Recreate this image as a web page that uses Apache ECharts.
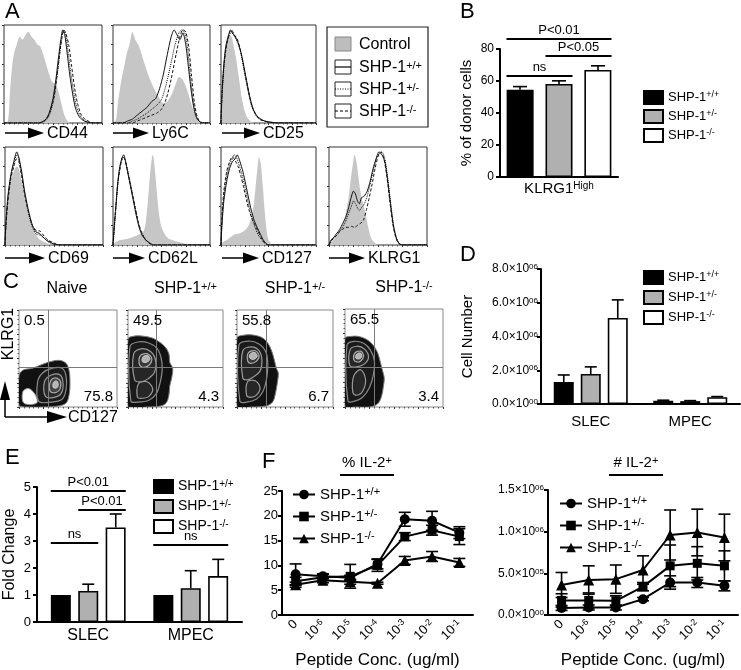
<!DOCTYPE html>
<html><head><meta charset="utf-8">
<script src="https://cdn.jsdelivr.net/npm/echarts@6/dist/echarts.min.js"></script>
<style>html,body{margin:0;padding:0;background:#fff}#c{width:741px;height:670px}</style>
</head><body><div id="c"></div><script>
const FONT = '"Liberation Sans", Arial, Helvetica, sans-serif';
const genotypes = ['+/+', '+/-', '-/-'];

// ---------- Panel A : histograms (x = fluorescence on display scale 0-100, y = % of max)
const histMarkers = ['CD44', 'Ly6C', 'CD25', 'CD69', 'CD62L', 'CD127', 'KLRG1'];
const cd44Ctrl = [[0,0],[4,2],[6,30],[8,55],[10,70],[13,80],[16,88],[19,85],[22,90],[25,93],[28,88],[31,85],[34,80],[37,78],[40,70],[43,60],[46,50],[49,42],[52,40],[55,34],[58,22],[61,10],[64,3],[68,0],[100,0]];
const cd44WT  = [[0,0],[35,0],[42,3],[46,10],[50,25],[53,45],[56,70],[58,85],[60,95],[62,90],[64,75],[67,50],[70,30],[73,15],[77,6],[82,2],[90,0],[100,0]];
const cd44Het = [[0,0],[36,0],[43,3],[47,10],[51,25],[54,46],[57,72],[59,88],[61,94],[63,90],[65,76],[68,52],[71,32],[74,17],[78,7],[83,2],[90,0],[100,0]];
const cd44KO  = [[0,0],[36,0],[43,4],[47,11],[51,27],[54,48],[57,72],[59,86],[61,95],[63,92],[66,80],[69,58],[72,36],[75,20],[79,8],[84,3],[92,0],[100,0]];
const ly6cCtrl = [[0,0],[3,3],[5,20],[8,40],[11,55],[14,70],[17,80],[20,93],[23,85],[26,80],[29,72],[32,62],[36,50],[40,40],[44,32],[48,25],[52,20],[56,22],[60,28],[64,38],[68,47],[72,44],[76,35],[80,22],[84,10],[88,3],[92,0],[100,0]];
const ly6cWT  = [[0,0],[10,0],[15,2],[20,4],[25,8],[30,12],[35,16],[40,22],[44,25],[48,35],[52,50],[56,70],[60,88],[63,95],[66,90],[69,85],[72,92],[75,80],[78,55],[81,30],[84,12],[87,4],[92,0],[100,0]];
const ly6cHet = [[0,0],[15,0],[20,2],[25,4],[30,7],[35,10],[40,14],[45,18],[50,24],[55,40],[60,62],[64,80],[68,92],[71,95],[74,92],[77,75],[80,45],[83,20],[86,6],[90,1],[100,0]];
const ly6cKO  = [[0,0],[20,0],[25,2],[30,4],[35,6],[40,8],[45,10],[50,14],[55,25],[60,45],[65,70],[69,88],[72,95],[75,93],[78,78],[81,48],[84,20],[87,6],[91,0],[100,0]];
const cd25Ctrl = [[0,0],[1,20],[3,55],[5,75],[7,85],[9,90],[11,88],[13,80],[16,65],[19,45],[22,25],[25,12],[28,5],[32,1],[36,0],[100,0]];
const cd25WT  = [[0,0],[1,30],[3,60],[5,78],[8,90],[10,95],[12,92],[15,88],[18,82],[22,68],[26,48],[30,28],[34,14],[38,7],[42,4],[46,2],[52,1],[60,0],[100,0]];
const cd25Het = [[0,0],[1,25],[3,55],[5,75],[8,88],[11,93],[13,90],[16,85],[20,75],[24,55],[28,35],[32,18],[36,9],[40,4],[46,2],[54,0],[100,0]];
const cd25KO  = [[0,0],[1,28],[3,58],[6,80],[9,92],[11,95],[14,90],[17,86],[21,72],[25,52],[29,32],[33,16],[37,8],[42,3],[50,1],[58,0],[100,0]];
const cd69Ctrl = [[0,0],[1,20],[3,45],[6,65],[9,75],[12,80],[14,78],[17,65],[20,48],[24,30],[28,18],[32,10],[36,5],[40,3],[45,1],[50,0],[100,0]];
const cd69WT  = [[0,0],[1,25],[3,50],[6,72],[9,85],[12,95],[14,90],[17,75],[20,55],[24,35],[28,20],[32,13],[35,12],[38,9],[42,5],[46,3],[50,1],[56,0],[100,0]];
const cd69Het = [[0,0],[1,22],[3,48],[6,70],[9,83],[12,92],[14,88],[17,72],[20,52],[24,32],[28,18],[32,11],[36,10],[40,7],[44,3],[50,1],[56,0],[100,0]];
const cd69KO  = [[0,0],[1,20],[3,45],[6,68],[9,80],[12,88],[14,86],[17,70],[20,52],[24,33],[28,20],[32,15],[36,14],[40,9],[44,5],[50,2],[56,0],[100,0]];
const cd62lCtrl = [[0,0],[3,3],[8,5],[14,6],[20,8],[25,10],[29,12],[32,15],[34,25],[36,45],[38,70],[40,88],[41,92],[42,88],[44,68],[46,45],[48,28],[50,18],[54,10],[58,6],[64,4],[72,2],[80,0],[100,0]];
const cd62lWT  = [[0,0],[1,15],[3,40],[5,65],[7,80],[9,88],[11,92],[13,85],[15,75],[18,60],[21,45],[24,30],[27,18],[30,10],[34,5],[38,2],[42,0],[100,0]];
const cd62lHet = [[0,0],[1,12],[3,38],[5,62],[7,78],[9,86],[11,90],[13,85],[16,72],[19,58],[22,42],[25,28],[28,16],[32,8],[36,3],[41,0],[100,0]];
const cd62lKO  = [[0,0],[1,14],[3,40],[5,63],[8,82],[10,90],[12,88],[14,80],[17,66],[20,52],[23,38],[26,24],[29,14],[33,6],[37,2],[42,0],[100,0]];
const cd127Ctrl = [[0,0],[2,3],[6,5],[10,8],[15,11],[20,12],[24,14],[28,18],[31,25],[34,38],[36,55],[38,75],[40,90],[42,82],[44,60],[46,35],[48,15],[50,5],[53,1],[56,0],[100,0]];
const cd127WT  = [[0,0],[1,20],[3,45],[6,65],[9,78],[12,85],[15,88],[17,92],[20,85],[23,75],[26,62],[29,48],[32,35],[35,25],[38,18],[41,12],[44,6],[47,2],[50,0],[100,0]];
const cd127Het = [[0,0],[1,25],[3,50],[6,70],[9,82],[12,88],[14,92],[16,90],[19,82],[22,72],[25,60],[28,46],[31,33],[34,23],[37,15],[40,9],[43,5],[47,1],[50,0],[100,0]];
const cd127KO  = [[0,0],[1,28],[3,55],[6,75],[9,85],[12,90],[15,86],[18,80],[21,70],[24,58],[27,45],[30,34],[33,26],[36,20],[39,14],[42,8],[45,3],[49,0],[100,0]];
const klrg1Ctrl = [[0,0],[2,3],[5,6],[8,10],[11,15],[14,22],[17,32],[20,48],[22,65],[24,80],[26,92],[28,85],[30,70],[32,55],[34,45],[36,38],[38,28],[40,18],[42,10],[44,5],[47,2],[50,0],[100,0]];
const klrg1WT  = [[0,0],[2,5],[5,8],[8,12],[11,16],[14,22],[17,28],[20,38],[23,50],[25,55],[27,52],[29,45],[31,42],[33,48],[36,50],[39,55],[42,65],[45,78],[48,88],[51,95],[54,92],[57,85],[60,65],[63,40],[66,18],[69,6],[72,1],[76,0],[100,0]];
const klrg1Het = [[0,0],[2,4],[5,7],[8,10],[11,14],[14,18],[17,24],[20,32],[23,40],[25,45],[27,42],[29,38],[31,35],[33,38],[36,42],[39,50],[42,62],[45,75],[48,87],[51,93],[54,95],[57,88],[60,68],[63,42],[66,20],[69,7],[72,1],[76,0],[100,0]];
const klrg1KO  = [[0,0],[2,4],[5,7],[8,10],[11,14],[14,16],[17,18],[20,18],[23,19],[26,18],[29,20],[32,22],[35,25],[38,35],[41,48],[44,62],[47,78],[50,90],[53,95],[56,88],[59,70],[62,45],[65,22],[68,8],[71,2],[75,0],[100,0]];
const histCtrl = [cd44Ctrl, ly6cCtrl, cd25Ctrl, cd69Ctrl, cd62lCtrl, cd127Ctrl, klrg1Ctrl];
const histWT   = [cd44WT, ly6cWT, cd25WT, cd69WT, cd62lWT, cd127WT, klrg1WT];
const histHet  = [cd44Het, ly6cHet, cd25Het, cd69Het, cd62lHet, cd127Het, klrg1Het];
const histKO   = [cd44KO, ly6cKO, cd25KO, cd69KO, cd62lKO, cd127KO, klrg1KO];

// ---------- Panel B
const bCategory = ['KLRG1High'];
const bWT = [54.5], bWTErr = [2.0];
const bHet = [58.2], bHetErr = [1.9];
const bKO = [66.9], bKOErr = [2.6];
const bSigLevel = [86.3, 75.6, 63.1];
const bSigFrom = [0, 1, 0];
const bSigTo = [2, 2, 1];
const bSigText = ['P<0.01', 'P<0.05', 'ns'];

// ---------- Panel C : contour plots (CD127 x, KLRG1 y on 0-100 display scale)
const cTitles = ['Naive', '+/+', '+/-', '-/-'];
const cUpperLeft = ['0.5', '49.5', '55.8', '65.5'];
const cLowerRight = ['75.8', '4.3', '6.7', '3.4'];
const cGateX = 30, cGateY = 41;
const naiveOuter = [[0,2],[0,32],[4,38],[14,40],[24,44],[33,47],[42,48],[48,45],[51,38],[52,25],[51,12],[48,4],[40,1],[25,0],[8,0]];
const naiveHole  = [[5,4],[4,16],[10,19],[17,12],[18,4]];
const naiveC1 = [[20,6],[19,26],[24,35],[34,40],[44,40],[48,32],[48,18],[44,8],[33,5]];
const naiveC2 = [[27,11],[26,26],[33,33],[42,33],[45,24],[43,14],[36,10]];
const naiveC3 = [[32,16],[32,26],[37,30],[42,27],[42,19],[38,15]];
const naiveC4 = [[35,20],[35,25],[38,27],[40,24],[39,20]];
const wtOuter = [[0,0],[0,70],[6,73],[16,73],[26,71],[33,67],[39,62],[43,55],[44,46],[47,40],[46,30],[44,22],[43,12],[40,4],[34,1],[20,0]];
const wtC1 = [[3,6],[2,62],[10,67],[22,66],[31,60],[35,50],[36,38],[34,26],[30,14],[22,7],[10,5]];
const wtC2 = [[7,28],[6,55],[14,60],[24,57],[29,48],[28,36],[21,29],[14,26]];
const wtC3 = [[12,44],[13,53],[20,55],[25,50],[22,43],[16,41]];
const wtC4 = [[10,10],[11,24],[20,26],[26,19],[22,11],[15,9]];
const wtC5 = [[15,47],[16,52],[21,53],[23,49],[19,46]];
const hetOuter = [[0,0],[0,71],[7,74],[18,74],[27,71],[32,66],[36,58],[39,48],[41,40],[43,35],[42,25],[40,14],[37,5],[30,1],[15,0]];
const hetC1 = [[3,6],[2,64],[12,68],[23,65],[30,57],[32,45],[31,30],[27,16],[20,8],[10,5]];
const hetC2 = [[6,30],[6,58],[15,62],[23,58],[26,48],[24,37],[17,31],[11,28]];
const hetC3 = [[11,48],[12,56],[19,58],[23,53],[20,47],[14,45]];
const hetC4 = [[10,12],[11,26],[19,27],[24,20],[20,12],[14,10]];
const hetC5 = [[13,51],[14,55],[19,56],[21,52],[17,49]];
const koOuter = [[0,0],[0,70],[6,72],[14,72],[22,69],[28,64],[33,56],[36,46],[38,38],[40,30],[39,20],[37,10],[33,3],[25,0],[10,0]];
const koC1 = [[3,6],[2,63],[9,67],[19,65],[26,58],[30,47],[29,33],[25,20],[18,10],[10,6]];
const koC2 = [[5,42],[5,58],[12,62],[20,59],[24,51],[20,44],[12,41]];
const koC3 = [[9,48],[10,55],[16,57],[19,52],[16,47],[12,46]];
const koC4 = [[8,15],[9,32],[16,38],[21,28],[18,16],[12,12]];
const koC5 = [[11,50],[12,54],[16,55],[17,51],[14,49]];
const contourSets = [
  [naiveOuter, naiveHole, naiveC1, naiveC2, naiveC3, naiveC4],
  [wtOuter, wtC1, wtC2, wtC3, wtC4, wtC5],
  [hetOuter, hetC1, hetC2, hetC3, hetC4, hetC5],
  [koOuter, koC1, koC2, koC3, koC4, koC5]
];

// ---------- Panel D
const subsetCats = ['SLEC', 'MPEC'];
const dWT = [1300000, 200000], dWTErr = [420000, 25000];
const dHet = [1780000, 170000], dHetErr = [420000, 30000];
const dKO = [5100000, 400000], dKOErr = [1070000, 40000];

// ---------- Panel E
const eWT = [1.0, 1.0], eWTErr = [0, 0];
const eHet = [1.15, 1.25], eHetErr = [0.25, 0.65];
const eKO = [3.5, 1.7], eKOErr = [0.5, 0.62];
const eSigCat = [0, 0, 0, 1];
const eSigLevel = [4.85, 4.15, 2.93, 2.85];
const eSigFrom = [0, 1, 0, 0];
const eSigTo = [2, 2, 1, 2];
const eSigText = ['P<0.01', 'P<0.01', 'ns', 'ns'];

// ---------- Panel F
const peptideCats = ['0', '1e-6', '1e-5', '1e-4', '1e-3', '1e-2', '1e-1'];
const pctWT = [8.2, 7.8, 7.5, 10.3, 19.3, 19.0, 16.6], pctWTErr = [2.1, 0.5, 0.5, 1.0, 1.4, 1.9, 1.2];
const pctHet = [6.8, 7.6, 7.8, 10.0, 15.8, 17.1, 15.8], pctHetErr = [0.8, 0.6, 2.4, 1.2, 0.8, 1.0, 1.6];
const pctKO = [6.1, 7.0, 6.7, 6.4, 11.0, 11.8, 10.6], pctKOErr = [0.5, 0.5, 0.5, 0.2, 0.8, 1.0, 0.8];
const numWT = [85000, 90000, 90000, 190000, 390000, 390000, 350000], numWTErr = [30000, 30000, 30000, 20000, 80000, 60000, 60000];
const numHet = [175000, 175000, 170000, 340000, 590000, 620000, 590000], numHetErr = [80000, 90000, 60000, 50000, 250000, 200000, 180000];
const numKO = [360000, 420000, 430000, 540000, 960000, 990000, 930000], numKOErr = [150000, 170000, 170000, 170000, 300000, 280000, 280000];

// ================= build =================
const grids = [], xAxes = [], yAxes = [], series = [], legends = [], graphics = [];
function addGrid(r, gridExtra, xa, ya) {
  const gi = grids.length;
  grids.push(Object.assign({left: r[0], top: r[1], width: r[2], height: r[3], containLabel: false}, gridExtra || {}));
  xAxes.push(Object.assign({gridIndex: gi}, xa));
  yAxes.push(Object.assign({gridIndex: gi}, ya));
  return gi;
}
const supRich = (base) => ({sup: {fontSize: Math.round(base * 0.7), fontFamily: FONT, verticalAlign: 'top', lineHeight: Math.round(base * 0.7), color: '#000'}});
const shpName = n => 'SHP-1{sup|' + n.split('|')[1] + '}';
const sci = v => {
  if (v === 0) return '0.0×10{sup|00}';
  const e = Math.floor(Math.log10(v) + 1e-9);
  const m = v / Math.pow(10, e);
  return m.toFixed(1) + '×10{sup|' + String(e).padStart(2, '0') + '}';
};
const blackAxisLine = {show: true, lineStyle: {color: '#000', width: 2}};

// ---- A
const histBoxes = [[4,25,98,98],[113,25,97,98],[221,25,95,98],[5,147,98,98],[113,147,97,98],[221,147,95,98],[329,147,98,98]];
histBoxes.forEach((b, i) => {
  const gi = addGrid(b, {show: true, borderColor: '#333', borderWidth: 1},
    {type: 'value', min: 0, max: 100, interval: 25, axisLine: {show: false}, axisLabel: {show: false}, splitLine: {show: false},
     axisTick: {show: true, length: 2, lineStyle: {color: '#333'}}, minorTick: {show: true, splitNumber: 5, length: 1.5, lineStyle: {color: '#555'}}},
    {type: 'value', min: 0, max: 100, interval: 20, axisLine: {show: false}, axisLabel: {show: false}, splitLine: {show: false},
     axisTick: {show: true, length: 2, lineStyle: {color: '#333'}}});
  series.push({type: 'line', xAxisIndex: gi, yAxisIndex: gi, data: histCtrl[i], symbol: 'none', smooth: 0.25,
    lineStyle: {width: 0}, areaStyle: {color: '#c6c6c6', opacity: 1}, silent: true, z: 1});
  [[histWT[i], 'solid'], [histHet[i], 'dotted'], [histKO[i], [3, 2]]].forEach(([d, t]) => {
    series.push({type: 'line', xAxisIndex: gi, yAxisIndex: gi, data: d, symbol: 'none', smooth: 0.25,
      lineStyle: {color: '#111', width: 1, type: t}, silent: true, z: 3});
  });
});

// error bar + significance helpers
function errSeries(gi, vals, errs, offset, cap, both) {
  return {type: 'custom', xAxisIndex: gi, yAxisIndex: gi, encode: {x: 0, y: 1}, z: 6, silent: true, clip: false,
    data: vals.map((v, i) => [i, v, errs[i]]),
    renderItem: (params, api) => {
      const c = api.value(0), v = api.value(1), e = api.value(2);
      const p0 = api.coord([c, v]), pt = api.coord([c, v + e]), pb = api.coord([c, both ? v - e : v]);
      const x = p0[0] + offset;
      const st = {stroke: '#000', lineWidth: 1.6};
      const ch = [
        {type: 'line', shape: {x1: x, y1: pb[1], x2: x, y2: pt[1]}, style: st},
        {type: 'line', shape: {x1: x - cap, y1: pt[1], x2: x + cap, y2: pt[1]}, style: st}
      ];
      if (both) ch.push({type: 'line', shape: {x1: x - cap, y1: pb[1], x2: x + cap, y2: pb[1]}, style: st});
      return {type: 'group', children: ch};
    }};
}
function sigSeries(gi, cats, levels, from, to, texts, bw, gap) {
  return {type: 'custom', xAxisIndex: gi, yAxisIndex: gi, encode: {x: 0, y: 1}, z: 7, silent: true, clip: false,
    data: levels.map((l, i) => [cats[i], l, from[i], to[i]]),
    renderItem: (params, api) => {
      const p = api.coord([api.value(0), api.value(1)]);
      const step = bw + gap;
      const x1 = p[0] + (api.value(2) - 1) * step - bw / 2;
      const x2 = p[0] + (api.value(3) - 1) * step + bw / 2;
      return {type: 'group', children: [
        {type: 'line', shape: {x1: x1, y1: p[1], x2: x2, y2: p[1]}, style: {stroke: '#000', lineWidth: 2}},
        {type: 'text', style: {text: texts[params.dataIndex], x: (x1 + x2) / 2, y: p[1] - 2, align: 'center', verticalAlign: 'bottom',
          fontSize: 13, fontFamily: FONT, fill: '#000'}}
      ]};
    }};
}
const barColors = ['#000', '#b0b0b0', '#fff'];
function barSeries(gi, prefix, sets, bw, gapPct) {
  sets.forEach((d, k) => {
    series.push({type: 'bar', name: prefix + '|' + genotypes[k], xAxisIndex: gi, yAxisIndex: gi, data: d,
      barWidth: bw, barGap: gapPct, itemStyle: {color: barColors[k], borderColor: '#000', borderWidth: 1.6}, z: 4});
  });
}
function barLegend(prefix, left, top, gap, fs) {
  legends.push({orient: 'vertical', left: left, top: top, padding: 0, itemGap: gap, itemWidth: 19, itemHeight: 13,
    icon: 'rect', data: genotypes.map(g => prefix + '|' + g), formatter: shpName, selectedMode: false,
    textStyle: {fontSize: fs, fontFamily: FONT, color: '#000', lineHeight: 15, rich: supRich(fs)}});
}

// ---- B
const gB = addGrid([500, 49, 118, 128], {},
  {type: 'category', data: bCategory, axisLine: blackAxisLine, axisTick: {alignWithLabel: true, length: 4, lineStyle: {width: 2, color: '#000'}},
   axisLabel: {fontSize: 15, fontFamily: FONT, color: '#000', margin: 4, formatter: v => 'KLRG1{sup|High}', rich: supRich(14)}},
  {type: 'value', min: 0, max: 80, interval: 20, axisLine: blackAxisLine, splitLine: {show: false},
   axisTick: {show: true, length: 4, lineStyle: {width: 2, color: '#000'}},
   axisLabel: {fontSize: 12, fontFamily: FONT, color: '#000', margin: 6},
   name: '% of donor cells', nameLocation: 'middle', nameGap: 26, nameTextStyle: {fontSize: 15, fontFamily: FONT, color: '#000'}});
barSeries(gB, 'B', [bWT, bHet, bKO], 27, '44%');
series.push(errSeries(gB, bWT, bWTErr, -39, 7, false));
series.push(errSeries(gB, bHet, bHetErr, 0, 7, false));
series.push(errSeries(gB, bKO, bKOErr, 39, 7, false));
series.push(sigSeries(gB, [0, 0, 0], bSigLevel, bSigFrom, bSigTo, bSigText, 27, 12));
barLegend('B', 643, 90, 4, 13);

// ---- C
const cBoxes = [[19,310,98,97],[128,310,95,97],[237,310,96,97],[345,309,98,98]];
const contourStyles = (k) => k === 0
  ? [{fill: '#111', stroke: '#777', lineWidth: 1}, {fill: '#fff', stroke: '#999', lineWidth: 1}, {fill: '#1c1c1c', stroke: '#8a8a8a', lineWidth: 1.2},
     {fill: '#2a2a2a', stroke: '#9a9a9a', lineWidth: 1.2}, {fill: '#444', stroke: '#aaa', lineWidth: 1.2}, {fill: '#b5b5b5', stroke: '#ccc', lineWidth: 1}]
  : [{fill: '#111', stroke: '#777', lineWidth: 1}, {fill: '#1a1a1a', stroke: '#8a8a8a', lineWidth: 1.2}, {fill: '#262626', stroke: '#9a9a9a', lineWidth: 1.2},
     {fill: '#3a3a3a', stroke: '#aaa', lineWidth: 1.2}, {fill: '#262626', stroke: '#9a9a9a', lineWidth: 1.2}, {fill: '#b5b5b5', stroke: '#ccc', lineWidth: 1}];
cBoxes.forEach((b, k) => {
  const gi = addGrid(b, {show: true, borderColor: '#888', borderWidth: 1},
    {type: 'value', min: 0, max: 100, interval: 25, axisLine: {show: false}, axisLabel: {show: false}, splitLine: {show: false},
     axisTick: {show: true, length: 2, lineStyle: {color: '#333'}}, minorTick: {show: true, splitNumber: 5, length: 1.5, lineStyle: {color: '#555'}}},
    {type: 'value', min: 0, max: 100, interval: 25, axisLine: {show: false}, axisLabel: {show: false}, splitLine: {show: false},
     axisTick: {show: true, length: 2, lineStyle: {color: '#333'}}, minorTick: {show: true, splitNumber: 5, length: 1.5, lineStyle: {color: '#555'}}});
  const polys = contourSets[k];
  const styles = contourStyles(k);
  series.push({type: 'custom', xAxisIndex: gi, yAxisIndex: gi, silent: true, clip: true, z: 2,
    data: polys.map(() => [0, 0]),
    renderItem: (params, api) => ({type: 'polygon', shape: {points: polys[params.dataIndex].map(p => api.coord(p)), smooth: 0.35},
      style: styles[params.dataIndex]}),
    markLine: {silent: true, symbol: 'none', animation: false, label: {show: false}, lineStyle: {color: '#7a7a7a', type: 'solid', width: 1},
      data: [{xAxis: cGateX}, {yAxis: cGateY}]}
  });
  graphics.push({type: 'text', x: b[0] + 5, y: b[1] + 3, z: 100, style: {text: cUpperLeft[k], fontSize: 15, fontFamily: FONT, fill: '#000', align: 'left', verticalAlign: 'top'}});
  graphics.push({type: 'text', x: b[0] + b[2] - 4, y: b[1] + b[3] - 3, z: 100, style: {text: cLowerRight[k], fontSize: 15, fontFamily: FONT, fill: '#000', align: 'right', verticalAlign: 'bottom'}});
  graphics.push({type: 'text', x: b[0] + b[2] / 2 + (k ? 10 : -1), y: b[1] - 21, z: 100,
    style: {text: k ? 'SHP-1{sup|' + cTitles[k] + '}' : cTitles[k], fontSize: 16, fontFamily: FONT, fill: '#000', align: 'center', verticalAlign: 'middle', rich: supRich(16)}});
});

// ---- D
const gD = addGrid([541, 269, 199, 135], {},
  {type: 'category', data: subsetCats, axisLine: blackAxisLine, axisTick: {alignWithLabel: true, length: 5, lineStyle: {width: 2, color: '#000'}},
   axisLabel: {fontSize: 15, fontFamily: FONT, color: '#000', margin: 10}},
  {type: 'value', min: 0, max: 8000000, interval: 2000000, axisLine: blackAxisLine, splitLine: {show: false},
   axisTick: {show: true, length: 4, lineStyle: {width: 2, color: '#000'}},
   axisLabel: {fontSize: 12, fontFamily: FONT, color: '#000', margin: 3, formatter: sci, rich: supRich(12)},
   name: 'Cell Number', nameLocation: 'middle', nameGap: 66, nameTextStyle: {fontSize: 15, fontFamily: FONT, color: '#000'}});
barSeries(gD, 'D', [dWT, dHet, dKO], 20, '35%');
series.push(errSeries(gD, dWT, dWTErr, -27, 6, false));
series.push(errSeries(gD, dHet, dHetErr, 0, 6, false));
series.push(errSeries(gD, dKO, dKOErr, 27, 6, false));
barLegend('D', 643, 270, 5, 13);

// ---- E
const gE = addGrid([37, 487, 205, 135], {},
  {type: 'category', data: subsetCats, axisLine: blackAxisLine, axisTick: {show: false},
   axisLabel: {fontSize: 16, fontFamily: FONT, color: '#000', margin: 6}},
  {type: 'value', min: 0, max: 5, interval: 1, axisLine: blackAxisLine, splitLine: {show: false},
   axisTick: {show: true, length: 4, lineStyle: {width: 2, color: '#000'}},
   axisLabel: {fontSize: 13, fontFamily: FONT, color: '#000', margin: 6},
   name: 'Fold Change', nameLocation: 'middle', nameGap: 19, nameTextStyle: {fontSize: 16, fontFamily: FONT, color: '#000'}});
barSeries(gE, 'E', [eWT, eHet, eKO], 20, '37%');
series.push(errSeries(gE, eHet, eHetErr, 0, 6, false));
series.push(errSeries(gE, eKO, eKOErr, 27.5, 6, false));
series.push(sigSeries(gE, eSigCat, eSigLevel, eSigFrom, eSigTo, eSigText, 20, 7.5));
barLegend('E', 153, 479, 5, 14);

// ---- F
const markers = ['circle', 'rect', 'triangle'];
const markerSize = [10, 9, 11];
function fPanel(rect, prefix, sets, errs, yMax, yInt, fmt, labelSize, lgLeft, lgTop, title, titleX) {
  const gi = addGrid(rect, {},
    {type: 'category', data: peptideCats, axisLine: blackAxisLine,
     axisTick: {alignWithLabel: true, length: 5, lineStyle: {width: 2, color: '#000'}},
     axisLabel: {fontSize: 13, fontFamily: FONT, color: '#000', rotate: 45, margin: 7, interval: 0,
       formatter: v => v === '0' ? '0' : '10{sup|' + v.slice(2) + '}', rich: supRich(13)},
     name: 'Peptide Conc. (ug/ml)', nameLocation: 'middle', nameGap: 37, nameTextStyle: {fontSize: 17, fontFamily: FONT, color: '#000'}},
    {type: 'value', min: 0, max: yMax, interval: yInt, axisLine: blackAxisLine, splitLine: {show: false},
     axisTick: {show: true, length: 4, lineStyle: {width: 2, color: '#000'}},
     axisLabel: {fontSize: labelSize, fontFamily: FONT, color: '#000', margin: 4, formatter: fmt, rich: supRich(12)}});
  sets.forEach((d, k) => {
    series.push({type: 'line', name: prefix + '|' + genotypes[k], xAxisIndex: gi, yAxisIndex: gi, data: d,
      symbol: markers[k], symbolSize: markerSize[k], showSymbol: true, itemStyle: {color: '#000'},
      lineStyle: {color: '#000', width: 2}, z: 5});
    series.push(errSeries(gi, d, errs[k], 0, 6, true));
  });
  legends.push({orient: 'vertical', left: lgLeft, top: lgTop, padding: 0, itemGap: 5, itemWidth: 22, itemHeight: 12, selectedMode: false,
    data: genotypes.map(g => prefix + '|' + g), formatter: shpName,
    textStyle: {fontSize: 15, fontFamily: FONT, color: '#000', lineHeight: 17, rich: supRich(15)}});
  graphics.push({type: 'text', x: titleX, y: 463, style: {text: title, fontSize: 15, fontFamily: FONT, fill: '#000', align: 'center', verticalAlign: 'middle', rich: supRich(15)}});
  graphics.push({type: 'line', shape: {x1: titleX - 27, y1: 475, x2: titleX + 27, y2: 475}, style: {stroke: '#000', lineWidth: 2}});
}
fPanel([282, 491, 191, 130], 'F1', [pctWT, pctHet, pctKO], [pctWTErr, pctHetErr, pctKOErr], 25, 5, null, 13, 292, 486, '% IL-2{sup|+}', 367);
fPanel([548, 490, 190, 129], 'F2', [numWT, numHet, numKO], [numWTErr, numHetErr, numKOErr], 1500000, 500000, sci, 12, 559, 495, '# IL-2{sup|+}', 636);

// ---- decorations: panel letters, arrows, legend box of A
[['A', 5, 1], ['B', 460, 1], ['C', 3, 271], ['D', 460, 244], ['E', 5, 447], ['F', 262, 451]].forEach(([t, x, y]) => {
  graphics.push({type: 'text', x: x, y: y, style: {text: t, fontSize: 22, fontFamily: FONT, fill: '#000', align: 'left', verticalAlign: 'top'}});
});
const arrowRows = [[5, 133, 47], [113, 133, 152], [222, 133, 263], [5, 258, 48], [113, 258, 148], [222, 258, 262], [329, 258, 368]];
arrowRows.forEach(([x0, y, tx], i) => {
  graphics.push({type: 'line', shape: {x1: x0, y1: y, x2: tx - 18, y2: y}, style: {stroke: '#000', lineWidth: 1.5}});
  graphics.push({type: 'polygon', shape: {points: [[tx - 19, y - 5.5], [tx - 3, y], [tx - 19, y + 5.5]]}, style: {fill: '#000'}});
  graphics.push({type: 'text', x: tx, y: y + 1, style: {text: histMarkers[i], fontSize: 16, fontFamily: FONT, fill: '#000', align: 'left', verticalAlign: 'middle'}});
});
// C axis arrows
graphics.push({type: 'line', shape: {x1: 5, y1: 417, x2: 5, y2: 398}, style: {stroke: '#000', lineWidth: 1.5}});
graphics.push({type: 'polygon', shape: {points: [[0, 400], [5, 381], [10, 400]]}, style: {fill: '#000'}});
graphics.push({type: 'line', shape: {x1: 5, y1: 417, x2: 48, y2: 417}, style: {stroke: '#000', lineWidth: 1.5}});
graphics.push({type: 'polygon', shape: {points: [[47, 411], [67, 417], [47, 423]]}, style: {fill: '#000'}});
graphics.push({type: 'text', x: 68, y: 418, style: {text: 'CD127', fontSize: 16, fontFamily: FONT, fill: '#000', align: 'left', verticalAlign: 'middle'}});
graphics.push({type: 'text', x: 9, y: 334, rotation: Math.PI / 2, style: {text: 'KLRG1', fontSize: 16, fontFamily: FONT, fill: '#000', align: 'center', verticalAlign: 'middle'}});
// A legend box
graphics.push({type: 'rect', shape: {x: 327, y: 27, width: 101, height: 100}, style: {fill: 'none', stroke: '#222', lineWidth: 1.2}});
const aLegendText = ['Control', 'SHP-1{sup|+/+}', 'SHP-1{sup|+/-}', 'SHP-1{sup|-/-}'];
const aLegendY = [44, 67, 89, 111];
aLegendY.forEach((y, i) => {
  graphics.push({type: 'rect', shape: {x: 335, y: y - 7, width: 16, height: 14},
    style: {fill: i === 0 ? '#bdbdbd' : '#fff', stroke: i === 0 ? '#888' : '#222', lineWidth: 1}});
  if (i > 0) graphics.push({type: 'line', shape: {x1: 335, y1: y, x2: 351, y2: y},
    style: {stroke: '#000', lineWidth: 1.2, lineDash: i === 2 ? [1, 1.5] : (i === 3 ? [3, 2] : null)}});
  graphics.push({type: 'text', x: 359, y: y + 1, style: {text: aLegendText[i], fontSize: 16, fontFamily: FONT, fill: '#000', align: 'left', verticalAlign: 'middle', rich: supRich(16)}});
});

const chart = echarts.init(document.getElementById('c'), null, {renderer: 'canvas'});
chart.setOption({
  animation: false,
  backgroundColor: '#fff',
  textStyle: {fontFamily: FONT},
  grid: grids, xAxis: xAxes, yAxis: yAxes, series: series, legend: legends,
  graphic: {elements: graphics}
});
</script></body></html>
